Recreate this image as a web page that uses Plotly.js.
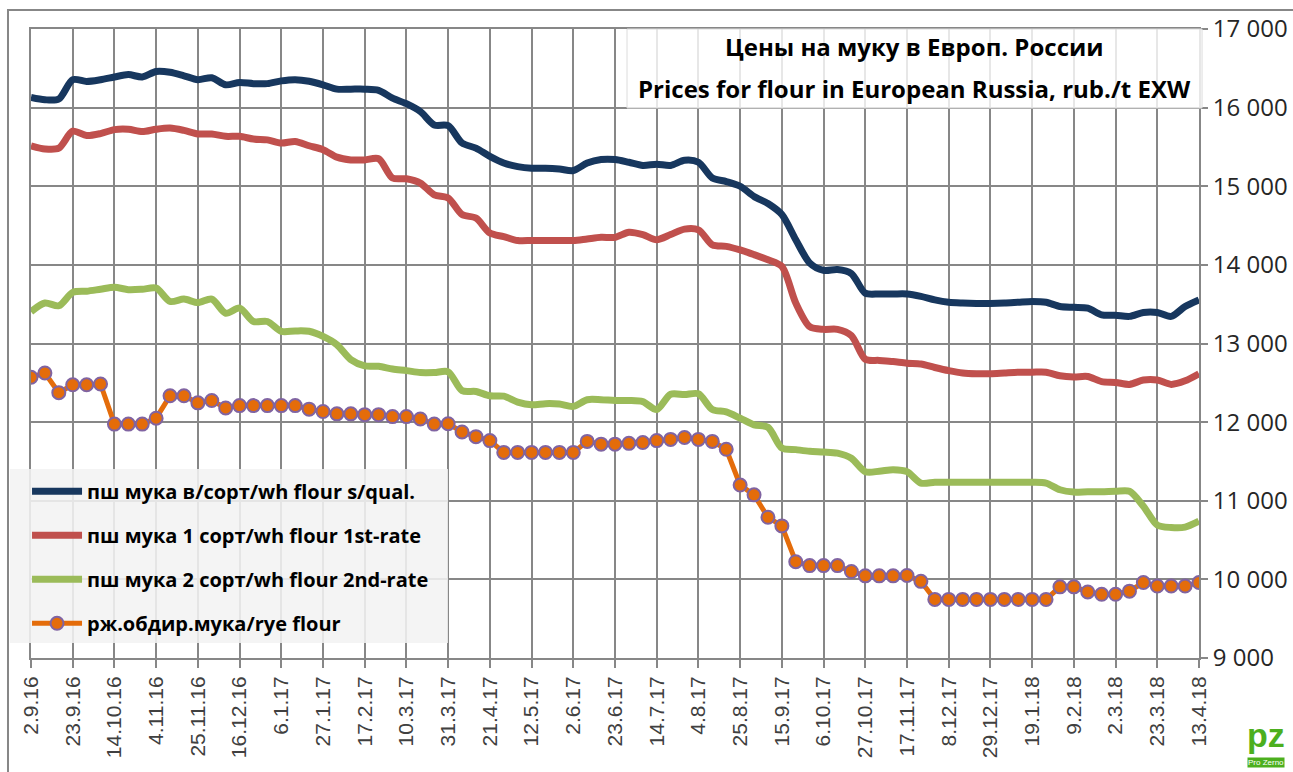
<!DOCTYPE html>
<html>
<head>
<meta charset="utf-8">
<script src="https://cdn.plot.ly/plotly-3.0.1.min.js"></script>
<style>html,body{margin:0;padding:0;background:#fff;}#chart{width:1293px;height:772px;}</style>
</head>
<body>
<div id="chart"></div>
<script>
const dates = ["2.9.16","9.9.16","16.9.16","23.9.16","30.9.16","7.10.16","14.10.16","21.10.16","28.10.16","4.11.16",
"11.11.16","18.11.16","25.11.16","2.12.16","9.12.16","16.12.16","23.12.16","30.12.16","6.1.17","13.1.17",
"20.1.17","27.1.17","3.2.17","10.2.17","17.2.17","24.2.17","3.3.17","10.3.17","17.3.17","24.3.17",
"31.3.17","7.4.17","14.4.17","21.4.17","28.4.17","5.5.17","12.5.17","19.5.17","26.5.17","2.6.17",
"9.6.17","16.6.17","23.6.17","30.6.17","7.7.17","14.7.17","21.7.17","28.7.17","4.8.17","11.8.17",
"18.8.17","25.8.17","1.9.17","8.9.17","15.9.17","22.9.17","29.9.17","6.10.17","13.10.17","20.10.17",
"27.10.17","3.11.17","10.11.17","17.11.17","24.11.17","1.12.17","8.12.17","15.12.17","22.12.17","29.12.17",
"5.1.18","12.1.18","19.1.18","26.1.18","2.2.18","9.2.18","16.2.18","23.2.18","2.3.18","9.3.18",
"16.3.18","23.3.18","30.3.18","6.4.18","13.4.18"];

const tickLabels = ["2.9.16","23.9.16","14.10.16","4.11.16","25.11.16","16.12.16","6.1.17","27.1.17","17.2.17","10.3.17",
"31.3.17","21.4.17","12.5.17","2.6.17","23.6.17","14.7.17","4.8.17","25.8.17","15.9.17","6.10.17",
"27.10.17","17.11.17","8.12.17","29.12.17","19.1.18","9.2.18","2.3.18","23.3.18","13.4.18"];

const flourSQual = [16130,16100,16110,16355,16333,16355,16390,16420,16390,16460,
16450,16405,16355,16380,16290,16320,16305,16305,16340,16355,
16335,16290,16235,16235,16235,16220,16120,16050,15950,15780,
15770,15550,15485,15380,15295,15250,15230,15230,15220,15200,
15295,15340,15340,15305,15265,15280,15265,15330,15305,15105,
15060,15000,14870,14780,14640,14320,14025,13930,13940,13890,
13640,13630,13630,13630,13600,13555,13525,13515,13510,13510,
13515,13525,13535,13525,13470,13460,13450,13365,13360,13345,
13395,13395,13345,13470,13555];

const flour1st = [15515,15475,15485,15700,15645,15670,15720,15725,15695,15725,
15740,15710,15665,15665,15635,15635,15600,15590,15550,15570,
15515,15465,15370,15335,15335,15350,15105,15095,15040,14890,
14850,14640,14595,14405,14360,14310,14310,14310,14310,14310,
14330,14350,14350,14415,14385,14320,14385,14455,14445,14255,
14235,14190,14130,14065,13980,13515,13215,13180,13180,13100,
12800,12785,12770,12750,12740,12695,12655,12625,12615,12615,
12625,12635,12635,12635,12590,12575,12580,12515,12505,12480,
12535,12535,12480,12525,12615];

const flour2nd = [13405,13515,13480,13650,13665,13690,13715,13685,13690,13705,
13535,13565,13520,13565,13385,13450,13280,13280,13155,13160,
13155,13090,12985,12795,12715,12710,12675,12655,12630,12630,
12640,12400,12390,12335,12330,12255,12220,12235,12230,12200,
12285,12285,12275,12275,12260,12160,12355,12350,12360,12160,
12130,12050,11965,11935,11670,11650,11630,11620,11605,11540,
11370,11375,11395,11370,11225,11235,11235,11235,11235,11235,
11235,11235,11235,11225,11140,11110,11115,11115,11120,11120,
10930,10690,10660,10665,10740];

const ryeFlour = [12570,12625,12375,12475,12475,12485,11975,11975,11975,12050,
12335,12335,12245,12275,12180,12210,12210,12210,12210,12210,
12165,12135,12105,12105,12095,12095,12070,12070,12040,11975,
11980,11875,11815,11765,11615,11615,11615,11615,11615,11615,
11755,11720,11720,11730,11740,11765,11780,11805,11780,11755,
11655,11200,11075,10790,10680,10225,10175,10175,10175,10100,
10045,10045,10045,10050,9975,9745,9745,9745,9745,9745,
9745,9745,9745,9745,9905,9905,9840,9810,9810,9850,
9960,9915,9915,9915,9960];

const seriesNames = ["пш мука в/сорт/wh flour s/qual.","пш мука 1 сорт/wh flour 1st-rate","пш мука 2 сорт/wh flour 2nd-rate","рж.обдир.мука/rye flour"];
const titleLines = ["Цены на муку в Европ. России","Prices for flour in European Russia, rub./t EXW"];

const FONT = "'Open Sans', sans-serif";
const GRID = '#878787';

const traces = [
  {x: dates, y: flourSQual, name: seriesNames[0], legendgroup:'a', mode:'lines', line:{color:'#17375E', width:7, shape:'spline', smoothing:0.8}},
  {x: dates, y: flour1st, name: seriesNames[1], legendgroup:'b', mode:'lines', line:{color:'#C0504D', width:7, shape:'spline', smoothing:0.8}},
  {x: dates, y: flour2nd, name: seriesNames[2], legendgroup:'c', mode:'lines', line:{color:'#9BBB59', width:7, shape:'spline', smoothing:0.8}},
  {x: dates, y: ryeFlour, name: seriesNames[3], legendgroup:'d', mode:'lines+markers', line:{color:'#E46C0A', width:5},
   marker:{size:13, color:'#E46C0A', line:{color:'#8064A2', width:2}}}
];

const layout = {
  width:1293, height:772,
  margin:{l:31, r:94, t:29, b:114, pad:0},
  paper_bgcolor:'#fff', plot_bgcolor:'#fff',
  separators:', ',
  showlegend:true,
  xaxis:{type:'category', range:[0,84], tickmode:'array', tickvals:tickLabels, ticktext:tickLabels,
    tickangle:-90, showgrid:true, gridcolor:GRID, gridwidth:2, ticks:'outside', ticklen:8, tickwidth:2, tickcolor:GRID,
    showline:true, mirror:true, linecolor:GRID, linewidth:2, zeroline:false,
    tickfont:{family:"'Liberation Sans', Arial, sans-serif", size:21, color:'#404040'}},
  yaxis:{side:'right', range:[9000,17000], dtick:1000, tick0:9000, tickformat:',d', showgrid:true, gridcolor:GRID, gridwidth:2,
    ticks:'outside', ticklen:7, tickwidth:2, tickcolor:GRID, showline:true, mirror:true, linecolor:GRID, linewidth:2, zeroline:false,
    tickfont:{family:FONT, size:24, color:'#262626'}},
  legend:{x:-0.0034, xanchor:'left', y:0.296, yanchor:'top', bgcolor:'rgba(0,0,0,0)', traceorder:'grouped', tracegroupgap:15,
    itemwidth:50, font:{family:FONT, size:20, color:'#000', weight:'bold'}},
  shapes:[
    {type:'rect', xref:'paper', yref:'paper', x0:0.5103, x1:1.0026, y0:0.8744, y1:1.0, layer:'above',
     fillcolor:'rgba(255,255,255,0.8)', line:{color:'rgba(220,220,220,1)', width:1}},
    {type:'rect', xref:'paper', yref:'paper', x0:-0.018, x1:0.357, y0:0.0238, y1:0.3005, layer:'above',
     fillcolor:'rgba(242,242,242,0.88)', line:{width:0}},
    {type:'rect', xref:'paper', yref:'paper', x0:-0.0197, x1:1.2, y0:-0.5, y1:1.0302, layer:'below',
     fillcolor:'rgba(0,0,0,0)', line:{color:GRID, width:2}}
  ],
  annotations:[
    {xref:'paper', yref:'paper', x:0.7568, y:0.9714, xanchor:'center', yanchor:'middle', showarrow:false,
     text:titleLines[0], font:{family:FONT, size:24, color:'#000', weight:'bold'}},
    {xref:'paper', yref:'paper', x:0.7568, y:0.9062, xanchor:'center', yanchor:'middle', showarrow:false,
     text:titleLines[1], font:{family:FONT, size:24, color:'#000', weight:'bold'}},
    {xref:'paper', yref:'paper', x:1.0574, y:-0.122, xanchor:'center', yanchor:'middle', showarrow:false,
     text:'<b>pz</b>', font:{family:"'Liberation Sans', sans-serif", size:34, color:'#4CAF1E'}},
    {xref:'paper', yref:'paper', x:1.0574, y:-0.166, xanchor:'center', yanchor:'middle', showarrow:false,
     text:'Pro Zerno', bgcolor:'#4CAF1E', borderpad:0, font:{family:"'Liberation Sans', sans-serif", size:8, color:'#fff'}}
  ]
};

Plotly.newPlot('chart', traces, layout, {displayModeBar:false, staticPlot:true});
</script>
</body>
</html>
